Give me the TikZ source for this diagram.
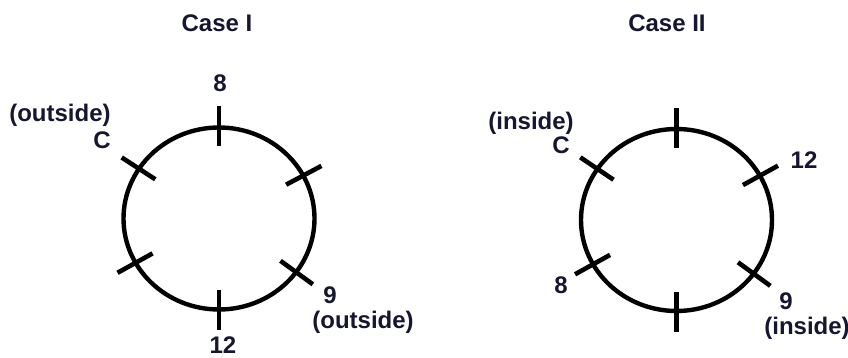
\documentclass[tikz,border=0pt]{standalone}
\usepackage{fontspec}
\setmainfont{Liberation Sans}
\usepackage{tikz}
\usetikzlibrary{calc, positioning, shapes.geometric}
\definecolor{labelink}{RGB}{22,22,48}

\begin{document}
\begin{tikzpicture}[
        x=1pt, y=1pt,
        ring/.style={draw=black, ellipse, line width=4.4pt, minimum width=191pt, minimum height=182pt, inner sep=0pt},
        tickmark/.style={draw=black, line width=4.6pt},
        casetitle/.style={font=\bfseries\fontsize{24}{28}\selectfont, text=labelink, inner sep=0pt},
        label/.style={font=\bfseries\fontsize{24}{28}\selectfont, text=labelink, inner sep=0pt}
    ]
        \useasboundingbox (0,0) rectangle (848,358);

        % Case I
        \node[casetitle] (titleI) at (217,335) {Case I};
        \node[ring] (ringI) at (219,139.5) {};
        \foreach \a in {90, 28, -36, -90, -151, 147}
            \draw[tickmark] ($(ringI.center)+(\a:76 and 72)$) -- ($(ringI.center)+(\a:116 and 112)$);

        \node[label] (topI) at (220,275) {8};
        \node[label] (outsideC) at (60,243) {(outside)};
        \node[label] (cI) at (102,218) {C};
        \node[label] (nineI) at (330,63) {9};
        \node[label] (outsideNine) at (363,36) {(outside)};
        \node[label] (bottomI) at (223,13) {12};

        % Case II
        \node[casetitle] (titleII) at (667,335) {Case II};
        \node[ring] (ringII) at (676.5,138) {};
        \foreach \a in {90, 29, -36, -90, -151, 146}
            \draw[tickmark] ($(ringII.center)+(\a:76 and 72)$) -- ($(ringII.center)+(\a:116 and 112)$);

        \node[label] (insideC) at (531,235) {(inside)};
        \node[label] (cII) at (561,213) {C};
        \node[label] (twelveII) at (804,198) {12};
        \node[label] (eightII) at (561,73) {8};
        \node[label] (nineII) at (786,57) {9};
        \node[label] (insideNine) at (807,30) {(inside)};

    \end{tikzpicture}
\end{document}
